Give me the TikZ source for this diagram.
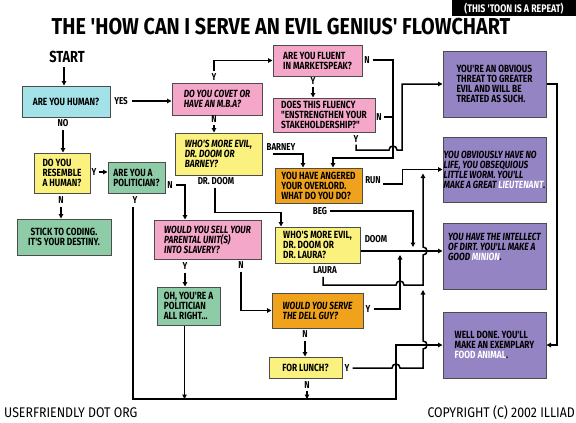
\documentclass[tikz,border=0pt]{standalone}
\usepackage{fontspec}
\setmainfont{Fira Sans}
\newfontfamily\boxfont[FakeStretch=0.8]{Fira Sans}
\newfontfamily\ttlfont[FakeStretch=0.86]{Fira Sans}
\newfontfamily\footfont[FakeStretch=0.88]{Fira Sans}
\usetikzlibrary{arrows.meta}
\definecolor{cyanb}{HTML}{A3E2E8}
\definecolor{pinkb}{HTML}{F4A7C8}
\definecolor{yellowb}{HTML}{FAF17E}
\definecolor{greenb}{HTML}{8DCCA6}
\definecolor{orangeb}{HTML}{F0A21C}
\definecolor{purpleb}{HTML}{9484C4}
\begin{document}
\begin{tikzpicture}[x=1pt,y=-1pt,
  box/.style={draw=black!70, line width=1pt, inner sep=0pt, align=left,
    font=\boxfont\bfseries\fontsize{10.4}{10}\selectfont},
  itbox/.style={box, font=\boxfont\bfseries\itshape\fontsize{10.4}{10}\selectfont},
  lbl/.style={inner sep=0pt, font=\boxfont\bfseries\fontsize{10}{10}\selectfont},
  conn/.style={line width=1.5pt},
  arr/.style={conn, -{Triangle[length=4.5pt,width=4.5pt]}}]
\useasboundingbox (0,0) rectangle (576,423);
\fill[white] (0,0) rectangle (576,423);
% banner and title
\fill[black] (452,0) rectangle (576,16);
\node[inner sep=0pt, text=white, font=\boxfont\bfseries\fontsize{11}{11}\selectfont] (banner) at (514,8.5) {(THIS 'TOON IS A REPEAT)};
\node[inner sep=0pt, font=\ttlfont\bfseries\fontsize{23}{23}\selectfont] (title) at (281,27) {THE 'HOW CAN I SERVE AN EVIL GENIUS' FLOWCHART};
% boxes
\node[box, fill=cyanb, align=center, minimum width=88pt, minimum height=31pt] (human) at (66,101.5) {ARE YOU HUMAN?};
\node[itbox, fill=pinkb, minimum width=90pt, minimum height=32pt] (covet) at (217,99) {DO YOU COVET OR\\HAVE AN M.B.A?};
\node[box, fill=pinkb, minimum width=89pt, minimum height=31pt] (fluent) at (317.5,60.5) {ARE YOU FLUENT\\IN MARKETSPEAK?};
\node[box, fill=pinkb, minimum width=102pt, minimum height=34pt] (fluency) at (324,115) {DOES THIS FLUENCY\\"ENSTRENGTHEN YOUR\\STAKEHOLDERSHIP?"};
\node[itbox, fill=yellowb, minimum width=87pt, minimum height=42pt] (barney) at (218.5,154) {WHO'S MORE EVIL,\\DR. DOOM OR\\BARNEY?};
\node[box, fill=orangeb, minimum width=87pt, minimum height=35pt] (angered) at (318.5,185.5) {YOU HAVE ANGERED\\YOUR OVERLORD.\\WHAT DO YOU DO?};
\node[box, fill=yellowb, minimum width=56pt, minimum height=40pt] (resemble) at (62,173) {DO YOU\\RESEMBLE\\A HUMAN?};
\node[box, fill=greenb, minimum width=57pt, minimum height=31pt] (politician) at (136.5,177.5) {ARE YOU A\\POLITICIAN?};
\node[box, fill=greenb, align=center, minimum width=94pt, minimum height=36pt] (coding) at (64,237) {STICK TO CODING.\\IT'S YOUR DESTINY.};
\node[itbox, fill=pinkb, minimum width=107pt, minimum height=39pt] (sell) at (207.5,239.5) {WOULD YOU SELL YOUR\\PARENTAL UNIT(S)\\INTO SLAVERY?};
\node[box, fill=greenb, minimum width=63pt, minimum height=38pt] (allright) at (188.5,306) {OH, YOU'RE A\\POLITICIAN\\ALL RIGHT...};
\node[box, fill=yellowb, minimum width=85pt, minimum height=36pt] (laura) at (317.5,245) {WHO'S MORE EVIL,\\DR. DOOM OR\\DR. LAURA?};
\node[itbox, fill=orangeb, minimum width=91pt, minimum height=35pt] (dell) at (317.5,310.5) {WOULD YOU SERVE\\THE DELL GUY?};
\node[box, fill=yellowb, align=center, minimum width=73pt, minimum height=21pt] (lunch) at (305.5,367.5) {FOR LUNCH?};
\node[box, fill=purpleb, minimum width=103pt, minimum height=66pt] (threat) at (494.5,84) {YOU'RE AN OBVIOUS\\THREAT TO GREATER\\EVIL AND WILL BE\\TREATED AS SUCH.};
\node[itbox, fill=purpleb, minimum width=103pt, minimum height=65pt] (nolife) at (494.5,169.5) {YOU OBVIOUSLY HAVE NO\\LIFE, YOU OBSEQUIOUS\\LITTLE WORM. YOU'LL\\MAKE A GREAT \textcolor{white}{LIEUTENANT}.};
\node[itbox, fill=purpleb, minimum width=103pt, minimum height=66pt, text depth=18pt] (minion) at (494.5,256) {YOU HAVE THE INTELLECT\\OF DIRT. YOU'LL MAKE A\\GOOD \textcolor{white}{MINION}.};
\node[box, fill=purpleb, minimum width=103pt, minimum height=66pt] (food) at (494.5,345) {WELL DONE. YOU'LL\\MAKE AN EXEMPLARY\\\textcolor{white}{FOOD ANIMAL}.};
% labels
\node[inner sep=0pt, font=\boxfont\bfseries\fontsize{16}{16}\selectfont] (start) at (67,57) {START};
\node[lbl] (yes) at (121,101) {YES};
\node[lbl] (no) at (63,123) {NO};
\node[lbl] (y1) at (214,77) {Y};
\node[lbl] (n1) at (214,119) {N};
\node[lbl] (y2) at (313,81) {Y};
\node[lbl] (n2) at (367,60) {N};
\node[lbl] (n8) at (379,117) {N};
\node[lbl] (y8) at (356,139) {Y};
\node[lbl] (barneylbl) at (281,147) {BARNEY};
\node[lbl] (doomlbl) at (216,181) {DR. DOOM};
\node[lbl] (run) at (373,180) {RUN};
\node[lbl] (beg) at (320,211) {BEG};
\node[lbl] (doom) at (376,239) {DOOM};
\node[lbl] (lauralbl) at (325,270) {LAURA};
\node[lbl] (y6) at (368,309) {Y};
\node[lbl] (n6) at (305,334) {N};
\node[lbl] (y7) at (347,368) {Y};
\node[lbl] (n7) at (307,385) {N};
\node[lbl] (y3) at (94,172) {Y};
\node[lbl] (n3) at (61,200) {N};
\node[lbl] (n4) at (170,185) {N};
\node[lbl] (y4) at (135,200) {Y};
\node[lbl] (y5) at (185,266) {Y};
\node[lbl] (n5) at (241,265) {N};
% footer
\node[inner sep=0pt, anchor=west, font=\footfont\fontsize{14}{14}\selectfont] (site) at (4,413) {USERFRIENDLY DOT ORG};
\node[inner sep=0pt, anchor=east, font=\footfont\fontsize{14}{14}\selectfont] (copy) at (575,413) {COPYRIGHT (C) 2002 ILLIAD};
% junction coordinates
\coordinate (bl) at (133,399);
\coordinate (br) at (396,399);
\coordinate (ytop) at (133,207);
\coordinate (mj) at (400,251);
\coordinate (bj) at (413,251);
% connectors
\draw[arr] ([xshift=-3pt,yshift=-4pt]start.south) -- ([xshift=-3pt]start.south |- human.north);
\draw[arr] ([xshift=4pt]yes.east) -- (yes.east -| covet.west);
\draw[arr] ([yshift=-3pt]no.south) -- (no.south |- resemble.north);
\draw[arr] ([yshift=-3pt]n3.south) -- (n3.south |- coding.north);
\draw[arr] ([xshift=2pt]y3.east) -- (y3.east -| politician.west);
\draw[arr] ([xshift=3pt]n4.east) -| ([xshift=-22.5pt]sell.north);
\draw[arr] (ytop) -- (bl) -- (br) -- (br |- food.west) -- (food.west);
\draw[arr] ([xshift=-4pt]allright.south) -- ([xshift=-4pt]allright.south |- bl);
\draw[arr] ([yshift=-3pt]y5.south) -- (y5.south |- allright.north);
\draw[arr] ([yshift=-3pt]n5.south) |- (dell.west);
\draw[arr] ([xshift=3pt]y6.east) -| ([yshift=-4pt]mj);
\draw[arr] ([yshift=-3pt]n6.south) -- (n6.south |- lunch.north);
\draw[arr] ([yshift=-2pt]n7.south) -- (n7.south |- bl);
\draw[arr] ([xshift=3pt]y7.east) -- (392,368) .. controls (392,362.7) and (400,362.7) .. (400,368) -- (423,368) -- (423,349) .. controls (428.3,349) and (428.3,341) .. (423,341) -- (423,290);
\draw[arr] (laura.east |- mj) -- (minion.west |- mj);
\draw[arr] ([xshift=3pt]beg.east) -| ([yshift=4pt]bj);
\draw[arr] ([xshift=-2pt,yshift=-3pt]lauralbl.south) -- (323,285) -- (396,285) .. controls (396,279.7) and (404,279.7) .. (404,285) -- (423,285) -- (423,255) .. controls (428.3,255) and (428.3,247) .. (423,247) -- (423,173.5);
\draw[arr] ([xshift=2pt]run.south east) -| ([xshift=-40pt]nolife.west) -- (nolife.west);
\draw[arr] ([xshift=10pt]barney.east) -| ([xshift=-15.5pt]angered.north);
\draw[arr] ([xshift=-1pt,yshift=-3pt]doomlbl.south) |- ([xshift=-36.5pt,yshift=14pt]laura.north) -- ([xshift=-36.5pt]laura.north);
\draw[arr] ([yshift=-2pt]n1.south) -- (n1.south |- barney.north);
\draw[arr] ([yshift=2pt]y1.north) |- (fluent.west);
\draw[arr] ([yshift=-2pt]y2.south) -- (y2.south |- fluency.north);
\draw[arr] ([xshift=3pt]n2.east) -| (393,158) -| ([xshift=14.5pt]angered.north);
\draw[conn] ([xshift=2pt]n8.east) -- (393,117);
\draw[arr] ([yshift=-2pt]y8.south) -- (356,150) -- (389,150) .. controls (389,144.7) and (397,144.7) .. (397,150) -- (402,150) -- (402,84) -- (threat.west);
\draw[arr] (threat.east) -- (557,84) -- (557,345) -- (food.east);
\end{tikzpicture}
\end{document}
